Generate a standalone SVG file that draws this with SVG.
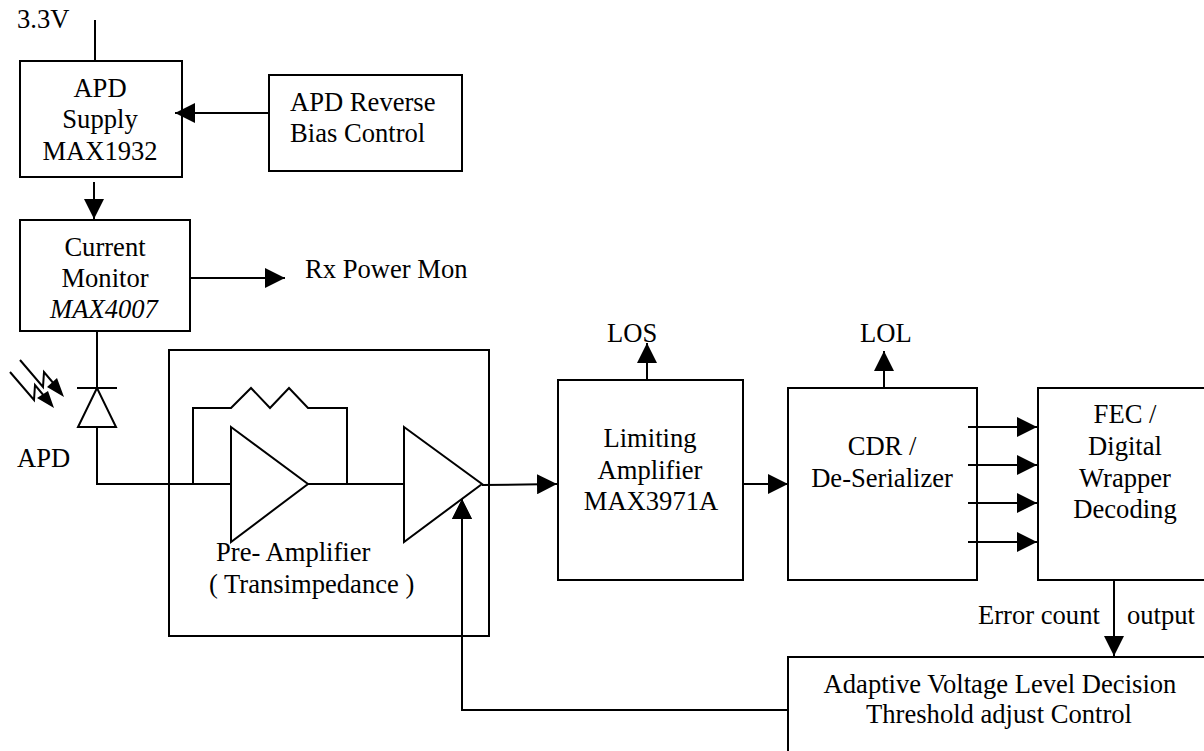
<svg xmlns="http://www.w3.org/2000/svg" width="1204" height="751" viewBox="0 0 1204 751">
<defs><marker id="a" markerUnits="userSpaceOnUse" markerWidth="20" markerHeight="20" refX="20" refY="10" orient="auto"><path d="M0 0L20 10L0 20Z" fill="#000"/></marker></defs>
<style>
text{font-family:"Liberation Serif",serif;font-size:26.6px;fill:#000;text-anchor:middle}
.st{text-anchor:start}
rect{fill:#fff;stroke:#000;stroke-width:2}
.s{fill:#fff;stroke:#000;stroke-width:2;stroke-linejoin:miter}
.l{fill:none;stroke:#000;stroke-width:2}
.ar{marker-end:url(#a)}
</style>
<rect width="1204" height="751" style="stroke:none"/>
<g id="apd-supply"><rect x="20" y="61" width="162" height="116"/><text x="100" y="97">APD</text><text x="100" y="128">Supply</text><text x="100" y="160">MAX1932</text></g>
<g id="bias"><rect x="269" y="75" width="193" height="96"/><text class="st" x="290" y="111">APD Reverse</text><text class="st" x="290" y="142">Bias Control</text></g>
<g id="monitor"><rect x="20" y="220" width="170" height="111"/><text x="105" y="256">Current</text><text x="105" y="287">Monitor</text><text x="104" y="318" font-style="italic">MAX4007</text></g>
<g id="pre-amp"><rect x="169" y="350" width="320" height="286"/><text class="st" x="216" y="561">Pre- Amplifier</text><text class="st" x="209" y="593">( Transimpedance )</text></g>
<g id="limiting"><rect x="558" y="380" width="185" height="200"/><text x="650" y="447">Limiting</text><text x="650" y="479">Amplifier</text><text x="651" y="510">MAX3971A</text></g>
<g id="cdr"><rect x="788" y="388" width="189" height="192"/><text x="882" y="455">CDR /</text><text x="882" y="487">De-Serializer</text></g>
<g id="fec"><rect x="1038" y="388" width="170" height="192"/><text x="1125" y="423">FEC /</text><text x="1125" y="455">Digital</text><text x="1125" y="487">Wrapper</text><text x="1125" y="518">Decoding</text></g>
<g id="adaptive"><rect x="788" y="657" width="420" height="100"/><text x="1000" y="693">Adaptive Voltage Level Decision</text><text x="999" y="723">Threshold adjust Control</text></g>
<g id="connectors">
<path class="l" d="M95 20V61"/>
<path class="l ar" d="M269 113H175"/>
<path class="l ar" d="M94 182V219"/>
<path class="l ar" d="M190 278H285"/>
<path class="l" d="M97 331V484H231"/>
<path class="l" d="M193 484V408H231L251 388L270 408L289 388L308 408H347V484"/>
<path class="l" d="M308 484H404"/>
<path class="l ar" d="M482 485L557 484"/>
<path class="l ar" d="M647 380V343"/>
<path class="l ar" d="M743 484H788"/>
<path class="l ar" d="M884 388V351"/>
<path class="l ar" d="M968 427H1037"/>
<path class="l ar" d="M968 465H1037"/>
<path class="l ar" d="M968 503H1037"/>
<path class="l ar" d="M968 542H1037"/>
<path class="l ar" d="M1114 580V656"/>
<path class="l ar" d="M788 710H462V499"/>
</g>
<g id="amp1"><path class="s" d="M231 427L308 484L231 542Z"/></g>
<g id="amp2"><path class="s" d="M404 427L482 484L404 542Z"/></g>
<g id="arrow-tip"><path d="M462 499L472 519H452Z" fill="#000"/></g>
<g id="apd"><path class="s" d="M77 388H117M97 388L78 427H116Z"/><path class="l" d="M20 360L43 387L44 372L60 391M10 372L34 400L35 385L50 403"/><path d="M57 378L64 397L47 387ZM48 391L54 408L37 398Z" fill="#000"/><text class="st" x="17" y="467">APD</text></g>
<g id="labels"><text class="st" x="17" y="28">3.3V</text><text class="st" x="305" y="278">Rx Power Mon</text><text class="st" x="607" y="342">LOS</text><text class="st" x="860" y="342">LOL</text><text class="st" x="978" y="624">Error count</text><text class="st" x="1127" y="624">output</text></g>
</svg>
